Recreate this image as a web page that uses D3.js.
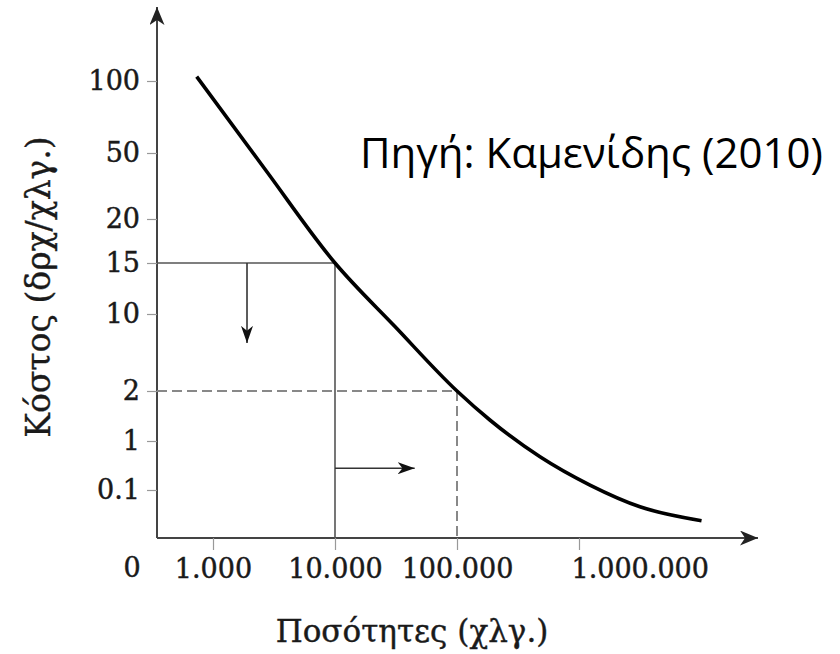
<!DOCTYPE html>
<html>
<head>
<meta charset="utf-8">
<script src="https://cdn.jsdelivr.net/npm/d3@7"></script>
<style>
  body { margin: 0; background: #fff; }
  svg { display: block; }
</style>
</head>
<body>
<div id="chart"></div>
<script>
// values
const costTicks = [0.1, 1, 2, 10, 15, 20, 50, 100];
const qtyTicks = [1000, 10000, 100000, 1000000];
const qtyLabels = ['1.000', '10.000', '100.000', '1.000.000'];

const curveQty = [735, 2670, 10000, 31000, 100000, 186000, 479000, 1230000, 3160000, 10100000];
const curveCost = [103, 42.6, 15, 8.7, 2, 1.42, 0.71, 0.19, 0.065, 0.036];

// the two read-offs: 10.000 kg at 15, 100.000 kg at 2
const solidPoint = { qty: 10000, cost: 15 };
const dashedPoint = { qty: 100000, cost: 2 };
// arrows: cost goes down, quantity goes up
const downArrow = { qty: 1900, from: 15, to: 7.0 };
const rightArrow = { cost: 0.5, from: 10000, to: 45000 };

const sourceText = 'Πηγή: Καμενίδης (2010)';
const yTitle = 'Κόστος (δρχ/χλγ.)';
const xTitle = 'Ποσότητες (χλγ.)';

{
  const W = 840;
  const H = 654;
  const serif = '"DejaVu Serif", serif';
  const ink = '#1a1a1a';

  const svg = d3.select('#chart').append('svg')
    .attr('width', W)
    .attr('height', H);

  // the axis is not regular in the original: piecewise scale through the ticks
  const y = d3.scaleLinear()
    .domain([0, 0.1, 1, 2, 10, 15, 20, 50, 100])
    .range([538, 490, 441, 391, 314, 263, 219, 153, 81]);

  const x = d3.scaleLog()
    .domain([1000, 1000000])
    .range([213, 579]);

  const x0 = 157; // y axis position
  const y0 = y(0); // x axis position

  const defs = svg.append('defs');
  const marker = (id, color, len, wid) => {
    defs.append('marker')
      .attr('id', id)
      .attr('markerUnits', 'userSpaceOnUse')
      .attr('viewBox', `${-len} ${-wid / 2} ${len} ${wid}`)
      .attr('refX', 0)
      .attr('refY', 0)
      .attr('markerWidth', len)
      .attr('markerHeight', wid)
      .attr('orient', 'auto')
      .append('path')
      .attr('d', `M0,0 L${-len},${-wid / 2} L${-len * 0.72},0 L${-len},${wid / 2} Z`)
      .attr('fill', color);
  };
  marker('axisArrow', '#222', 18, 15);
  marker('smallArrow', '#111', 17, 12);

  // axes lines with arrow heads
  svg.append('line')
    .attr('x1', x0).attr('y1', y0)
    .attr('x2', x0).attr('y2', 7)
    .attr('stroke', '#444')
    .attr('stroke-width', 2)
    .attr('marker-end', 'url(#axisArrow)');

  svg.append('line')
    .attr('x1', x0).attr('y1', y0)
    .attr('x2', 758).attr('y2', y0)
    .attr('stroke', '#444')
    .attr('stroke-width', 2)
    .attr('marker-end', 'url(#axisArrow)');

  const styleLabels = sel => sel
    .attr('font-family', serif)
    .attr('font-size', 27)
    .attr('fill', ink)
    .attr('stroke', ink)
    .attr('stroke-width', 0.45);

  const yAxis = d3.axisLeft(y)
    .tickValues(costTicks)
    .tickFormat(d => String(d))
    .tickSize(10)
    .tickSizeOuter(0)
    .tickPadding(7);

  const gy = svg.append('g')
    .attr('transform', `translate(${x0},0)`)
    .call(yAxis);
  gy.select('.domain').remove();
  gy.selectAll('line').attr('stroke', '#999').attr('stroke-width', 1.2);
  gy.selectAll('text').call(styleLabels);

  const xAxis = d3.axisBottom(x)
    .tickValues(qtyTicks)
    .tickFormat((d, i) => qtyLabels[i])
    .tickSize(12)
    .tickSizeOuter(0)
    .tickPadding(9);

  const gx = svg.append('g')
    .attr('transform', `translate(0,${y0})`)
    .call(xAxis);
  gx.select('.domain').remove();
  gx.selectAll('line').attr('stroke', '#999').attr('stroke-width', 1.2);
  gx.selectAll('text').call(styleLabels);
  // the last label sits to the right of its tick in the original
  gx.selectAll('text')
    .filter(d => d === 1000000)
    .attr('text-anchor', 'start')
    .attr('dx', -8);

  // origin label
  svg.append('text')
    .attr('x', 132)
    .attr('y', y0 + 30)
    .attr('dy', '0.32em')
    .attr('text-anchor', 'middle')
    .call(styleLabels)
    .text('0');

  // read-off lines
  const guides = svg.append('g');
  guides.append('path')
    .attr('d', `M${x0},${y(solidPoint.cost)} H${x(solidPoint.qty)} V${y0}`)
    .attr('fill', 'none')
    .attr('stroke', '#555')
    .attr('stroke-width', 1.6);

  guides.append('path')
    .attr('d', `M${x0},${y(dashedPoint.cost)} H${x(dashedPoint.qty)} V${y0}`)
    .attr('fill', 'none')
    .attr('stroke', '#888')
    .attr('stroke-width', 2)
    .attr('stroke-dasharray', '10,5');

  guides.append('line')
    .attr('x1', x(downArrow.qty)).attr('y1', y(downArrow.from))
    .attr('x2', x(downArrow.qty)).attr('y2', y(downArrow.to))
    .attr('stroke', '#333')
    .attr('stroke-width', 1.6)
    .attr('marker-end', 'url(#smallArrow)');

  guides.append('line')
    .attr('x1', x(rightArrow.from)).attr('y1', y(rightArrow.cost))
    .attr('x2', x(rightArrow.to)).attr('y2', y(rightArrow.cost))
    .attr('stroke', '#333')
    .attr('stroke-width', 1.6)
    .attr('marker-end', 'url(#smallArrow)');

  // cost curve
  const points = curveQty.map((q, i) => ({ qty: q, cost: curveCost[i] }));
  const line = d3.line()
    .x(d => x(d.qty))
    .y(d => y(d.cost))
    .curve(d3.curveMonotoneX);

  svg.append('path')
    .datum(points)
    .attr('d', line)
    .attr('fill', 'none')
    .attr('stroke', '#000')
    .attr('stroke-width', 3.6)
    .attr('stroke-linecap', 'butt');

  // axis titles
  svg.append('text')
    .attr('transform', 'translate(38,287) rotate(-90)')
    .attr('text-anchor', 'middle')
    .attr('dy', '0.35em')
    .attr('font-family', serif)
    .attr('font-size', 33)
    .attr('fill', ink)
    .attr('stroke', ink)
    .attr('stroke-width', 0.4)
    .text(yTitle);

  svg.append('text')
    .attr('x', 412)
    .attr('y', 631)
    .attr('text-anchor', 'middle')
    .attr('dy', '0.35em')
    .attr('font-family', serif)
    .attr('font-size', 31)
    .attr('fill', ink)
    .attr('stroke', ink)
    .attr('stroke-width', 0.4)
    .text(xTitle);

  // source note
  svg.append('text')
    .attr('x', 360)
    .attr('y', 168)
    .attr('font-family', '"Open Sans", sans-serif')
    .attr('font-size', 42)
    .attr('fill', '#000')
    .text(sourceText);
}
</script>
</body>
</html>
